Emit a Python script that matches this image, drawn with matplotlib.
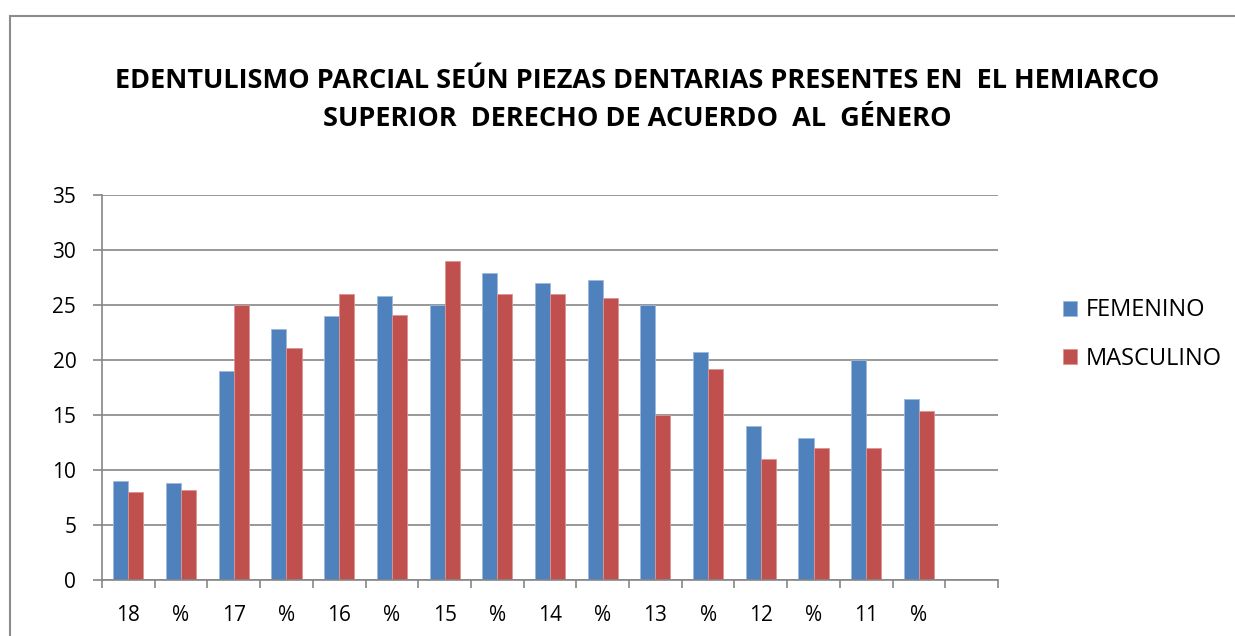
import matplotlib.pyplot as plt
from matplotlib.patches import Rectangle
import numpy as np

# tooth pieces (with their % columns); last slot is empty in the original
categories = ["18", "%", "17", "%", "16", "%", "15", "%",
              "14", "%", "13", "%", "12", "%", "11", "%", ""]
femenino = [9, 8.8, 19, 22.8, 24, 25.8, 25, 27.9,
            27, 27.3, 25, 20.7, 14, 12.9, 20, 16.5]
masculino = [8, 8.2, 25, 21.1, 26, 24.1, 29, 26.0,
             26, 25.6, 15, 19.2, 11, 12.0, 12, 15.4]
series_names = ["FEMENINO", "MASCULINO"]
colors = ["#4F81BD", "#C0504D"]

title = ("EDENTULISMO PARCIAL SEÚN PIEZAS DENTARIAS PRESENTES EN  EL HEMIARCO\n"
         "SUPERIOR  DERECHO DE ACUERDO  AL  GÉNERO")

plt.rcParams["font.family"] = ["Open Sans", "DejaVu Sans"]

fig = plt.figure(figsize=(12.35, 6.36), dpi=100)
ax = fig.add_axes([102 / 1235, 1 - 580 / 636, 896 / 1235, 385 / 636])

# outer chart frame
fig.patches.append(Rectangle((10 / 1235, -0.05), 1.2, 1 - 16 / 636 + 0.05,
                             transform=fig.transFigure, fill=False,
                             edgecolor="#8C8C8C", linewidth=1.5))

n = len(categories)
x = np.arange(n)
w = 1 / 3.5
xf = x[:len(femenino)]
ax.bar(xf - w / 2, femenino, width=w, color=colors[0], label=series_names[0],
       edgecolor="#9DB8DC", linewidth=0.6)
ax.bar(xf + w / 2, masculino, width=w, color=colors[1], label=series_names[1],
       edgecolor="#DC9593", linewidth=0.6)

ax.set_xlim(-0.5, n - 0.5)
ax.set_ylim(0, 35)
ax.set_yticks(range(0, 36, 5))
ax.yaxis.grid(True, color="#868686", linewidth=1.2)
ax.set_axisbelow(True)

ax.set_xticks(np.arange(-0.5, n, 1))
ax.set_xticklabels([])
ax.set_xticks(x, minor=True)
ax.set_xticklabels(categories, minor=True)
ax.tick_params(axis="x", which="major", length=6, color="#868686", width=1.2)
ax.tick_params(axis="x", which="minor", length=0, pad=18, labelsize=15)
ax.tick_params(axis="y", length=6.5, color="#868686", width=1.2, pad=12,
               labelsize=15)

for s in ["top", "right"]:
    ax.spines[s].set_visible(False)
for s in ["left", "bottom"]:
    ax.spines[s].set_color("#868686")
    ax.spines[s].set_linewidth(1.2)

fig.text(637 / 1235, 1 - 100.5 / 636, title, ha="center", va="center",
         fontsize=19.5, fontweight="bold", linespacing=1.6)

ax.legend(loc="center left", bbox_to_anchor=(1.049, 0.637), frameon=False,
          fontsize=17, handlelength=0.6, handleheight=0.6, labelspacing=1.05,
          handletextpad=0.35)

fig.savefig("out.png", dpi=100)
